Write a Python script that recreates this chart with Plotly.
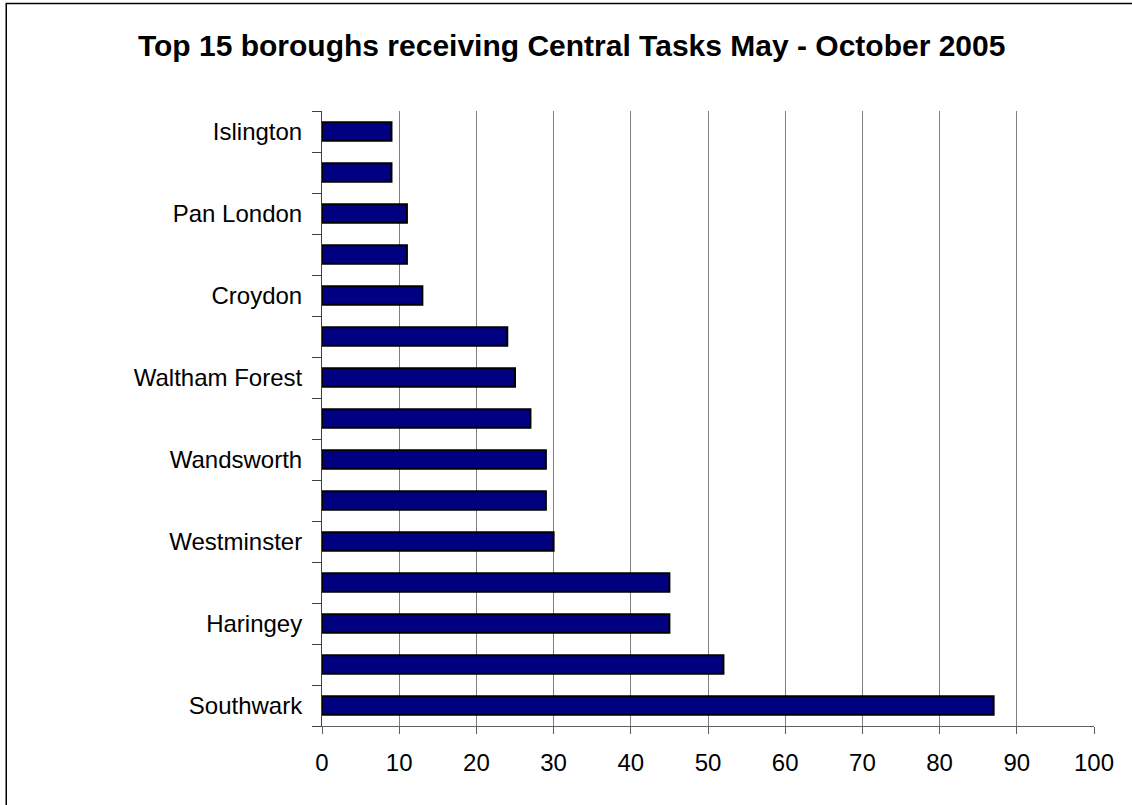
import plotly.graph_objects as go

# boroughs from bottom to top; only every other name is printed on the axis
labels = ["Southwark", "", "Haringey", "", "Westminster", "", "Wandsworth", "",
          "Waltham Forest", "", "Croydon", "", "Pan London", "", "Islington"]
tasks = [87, 52, 45, 45, 30, 29, 29, 27, 25, 24, 13, 11, 11, 9, 9]
positions = list(range(len(labels)))
x_ticks = [0, 10, 20, 30, 40, 50, 60, 70, 80, 90, 100]

font = "Liberation Sans, Arial, sans-serif"

fig = go.Figure()
fig.add_trace(go.Bar(
    x=tasks,
    y=positions,
    orientation="h",
    width=0.45,
    marker=dict(color="#000080", line=dict(color="#000000", width=2)),
    hoverinfo="x",
))

fig.update_layout(
    title=dict(
        text="<b>Top 15 boroughs receiving Central Tasks May - October 2005</b>",
        font=dict(family=font, size=30, color="#000000"),
        x=0.505, xanchor="center", y=0.943, yanchor="middle",
    ),
    xaxis=dict(
        range=[0, 100],
        tickvals=x_ticks,
        showgrid=True,
        gridcolor="#808080",
        gridwidth=1,
        zeroline=False,
        showline=True,
        linecolor="#606060",
        linewidth=1,
        ticks="outside",
        ticklen=7,
        tickcolor="#606060",
        ticklabelstandoff=8,
        tickfont=dict(family=font, size=24, color="#000000"),
        fixedrange=True,
    ),
    yaxis=dict(
        range=[-0.5, len(labels) - 0.5],
        tickvals=positions,
        ticktext=labels,
        ticks="",
        showgrid=False,
        zeroline=False,
        showline=True,
        linecolor="#404040",
        linewidth=1,
        ticklabelstandoff=14,
        tickfont=dict(family=font, size=24, color="#000000"),
        minor=dict(tick0=-0.5, dtick=1, ticks="outside", ticklen=9,
                   tickcolor="#404040", showgrid=False),
        fixedrange=True,
    ),
    # chart frame: only its left and top edges fall inside the page
    shapes=[dict(type="rect", xref="paper", yref="paper",
                 x0=-0.409, x1=1.07, y0=-0.15, y1=1.175,
                 line=dict(color="#000000", width=1.5))],
    showlegend=False,
    margin=dict(l=322, r=38, t=111, b=79),
    width=1132,
    height=805,
    paper_bgcolor="white",
    plot_bgcolor="white",
)

fig.write_html("out.html", config={"displayModeBar": False},
               post_script="document.body.style.margin='0';"
                           "document.body.style.overflow='hidden';")
